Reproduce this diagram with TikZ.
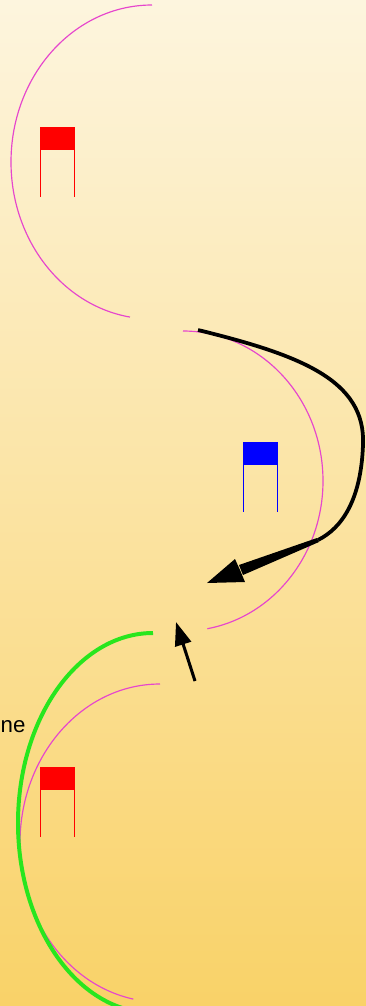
\documentclass[tikz,border=0pt]{standalone}
\usepackage{fontspec}
\setmainfont{Liberation Sans}
\usepackage{tikz}
\usetikzlibrary{arrows.meta}
\definecolor{bgtop}{RGB}{253,245,222}
\definecolor{bgbottom}{RGB}{249,210,104}
\definecolor{arcpink}{RGB}{230,70,205}
\definecolor{pathgreen}{RGB}{40,230,30}

\begin{document}
\begin{tikzpicture}[x=0.03cm,y=-0.03cm,
		pinkarc/.style={draw=arcpink,line width=1pt},
		leg/.style={line width=0.8pt}]
		\def\flag#1#2#3{\fill[#3] (#1,#2) rectangle ++(35,23); \draw[leg,#3] (#1+0.5,#2+23) -- ++(0,47); \draw[leg,#3] (#1+34.5,#2+23) -- ++(0,47);}
		\useasboundingbox (0,0) rectangle (366,1006);
		\shade[top color=bgtop,bottom color=bgbottom] (0,0) rectangle (366,1006);
		% the three laps
		\draw[pinkarc] (152,5) arc[start angle=270,end angle=99,x radius=141,y radius=157];
		\draw[pinkarc] (183,331) arc[start angle=270,end angle=440,x radius=140,y radius=150];
		\draw[pinkarc] (160,684) arc[start angle=270,end angle=101,x radius=140,y radius=159];
		\draw[pathgreen,line width=3.4pt] (153,633) arc[start angle=270,end angle=100,x radius=135,y radius=190];
		% flags
		\flag{40}{127}{red}
		\flag{243}{442}{blue}
		\flag{40}{767}{red}
		\node[anchor=base west,font=\fontsize{19}{23}\selectfont,inner sep=0pt] (label) at (0.5,732) {ne};
		% big turning arrow
		\coordinate (turnstart) at (198,330);
		\coordinate (turnbend) at (318,540);
		\coordinate (turntip) at (207,583);
		\draw[line width=3.2pt] (turnstart) .. controls (300,355) and (366,380) .. (363,445) .. controls (361,500) and (342,528) .. (turnbend);
		\fill (317,538) -- (319,542) -- (243,575) -- (239,565) -- cycle;
		\fill (turntip) -- (235,559) -- (240,570) -- (245,582) -- cycle;
		% small arrow
		\coordinate (smallstart) at (195,681);
		\coordinate (smalltip) at (176,622);
		\draw[line width=2.6pt,-{Triangle[length=20pt,width=14pt]}] (smallstart) -- (smalltip);
	\end{tikzpicture}
\end{document}
